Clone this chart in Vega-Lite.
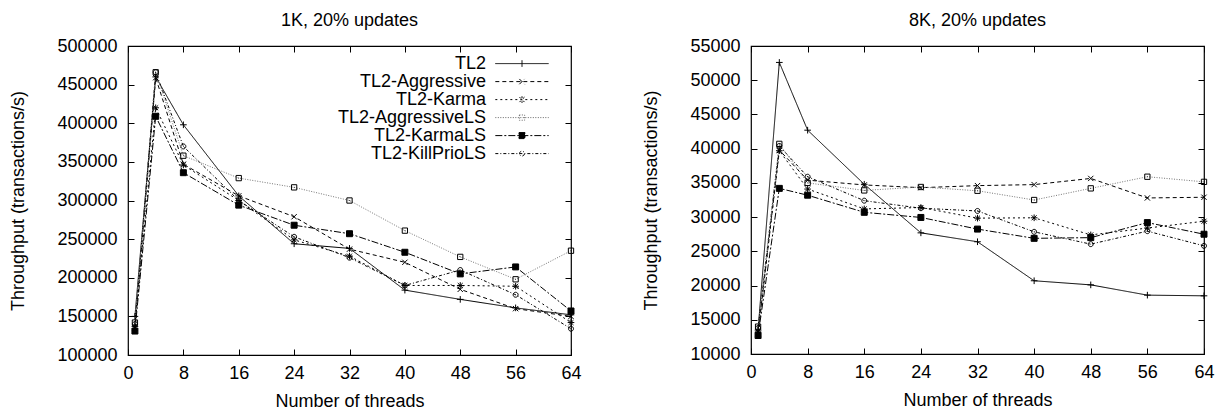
{
  "$schema": "https://vega.github.io/schema/vega-lite/v6.json",
  "padding": {"left": 9, "top": 11, "right": 5, "bottom": 4},
  "background": "white",
  "config": {
    "font": "Liberation Sans",
    "view": {"stroke": "black", "strokeWidth": 1.2},
    "title": {"font": "Liberation Sans", "fontSize": 18, "fontWeight": "normal", "color": "black", "offset": 7},
    "axis": {
      "labelFont": "Liberation Sans", "labelFontSize": 18, "labelColor": "black", "labelFlush": false, "labelOverlap": false,
      "titleFont": "Liberation Sans", "titleFontSize": 18, "titleFontWeight": "normal", "titleColor": "black",
      "grid": false, "domain": false, "tickColor": "black", "tickSize": -6, "tickWidth": 1
    },
    "legend": {
      "labelFont": "Liberation Sans", "labelFontSize": 18, "labelColor": "black"
    }
  },
  "datasets": {
    "k1": [
      {"threads": 1, "series": "TL2", "tp": 150000},
      {"threads": 4, "series": "TL2", "tp": 460000},
      {"threads": 8, "series": "TL2", "tp": 398000},
      {"threads": 16, "series": "TL2", "tp": 306000},
      {"threads": 24, "series": "TL2", "tp": 244000},
      {"threads": 32, "series": "TL2", "tp": 238000},
      {"threads": 40, "series": "TL2", "tp": 184000},
      {"threads": 48, "series": "TL2", "tp": 172000},
      {"threads": 56, "series": "TL2", "tp": 161000},
      {"threads": 64, "series": "TL2", "tp": 152000},
      {"threads": 1, "series": "TL2-Aggressive", "tp": 135000},
      {"threads": 4, "series": "TL2-Aggressive", "tp": 459000},
      {"threads": 8, "series": "TL2-Aggressive", "tp": 347000},
      {"threads": 16, "series": "TL2-Aggressive", "tp": 306000},
      {"threads": 24, "series": "TL2-Aggressive", "tp": 279000},
      {"threads": 32, "series": "TL2-Aggressive", "tp": 237000},
      {"threads": 40, "series": "TL2-Aggressive", "tp": 220000},
      {"threads": 48, "series": "TL2-Aggressive", "tp": 185000},
      {"threads": 56, "series": "TL2-Aggressive", "tp": 160000},
      {"threads": 64, "series": "TL2-Aggressive", "tp": 150000},
      {"threads": 1, "series": "TL2-Karma", "tp": 137000},
      {"threads": 4, "series": "TL2-Karma", "tp": 420000},
      {"threads": 8, "series": "TL2-Karma", "tp": 346000},
      {"threads": 16, "series": "TL2-Karma", "tp": 300000},
      {"threads": 24, "series": "TL2-Karma", "tp": 249000},
      {"threads": 32, "series": "TL2-Karma", "tp": 228000},
      {"threads": 40, "series": "TL2-Karma", "tp": 190000},
      {"threads": 48, "series": "TL2-Karma", "tp": 190000},
      {"threads": 56, "series": "TL2-Karma", "tp": 189000},
      {"threads": 64, "series": "TL2-Karma", "tp": 142000},
      {"threads": 1, "series": "TL2-AggressiveLS", "tp": 142000},
      {"threads": 4, "series": "TL2-AggressiveLS", "tp": 466000},
      {"threads": 8, "series": "TL2-AggressiveLS", "tp": 358000},
      {"threads": 16, "series": "TL2-AggressiveLS", "tp": 329000},
      {"threads": 24, "series": "TL2-AggressiveLS", "tp": 317000},
      {"threads": 32, "series": "TL2-AggressiveLS", "tp": 300000},
      {"threads": 40, "series": "TL2-AggressiveLS", "tp": 261000},
      {"threads": 48, "series": "TL2-AggressiveLS", "tp": 227000},
      {"threads": 56, "series": "TL2-AggressiveLS", "tp": 198000},
      {"threads": 64, "series": "TL2-AggressiveLS", "tp": 235000},
      {"threads": 1, "series": "TL2-KarmaLS", "tp": 131000},
      {"threads": 4, "series": "TL2-KarmaLS", "tp": 409000},
      {"threads": 8, "series": "TL2-KarmaLS", "tp": 336000},
      {"threads": 16, "series": "TL2-KarmaLS", "tp": 294000},
      {"threads": 24, "series": "TL2-KarmaLS", "tp": 268000},
      {"threads": 32, "series": "TL2-KarmaLS", "tp": 257000},
      {"threads": 40, "series": "TL2-KarmaLS", "tp": 233000},
      {"threads": 48, "series": "TL2-KarmaLS", "tp": 205000},
      {"threads": 56, "series": "TL2-KarmaLS", "tp": 214000},
      {"threads": 64, "series": "TL2-KarmaLS", "tp": 157000},
      {"threads": 1, "series": "TL2-KillPrioLS", "tp": 140000},
      {"threads": 4, "series": "TL2-KillPrioLS", "tp": 466000},
      {"threads": 8, "series": "TL2-KillPrioLS", "tp": 370000},
      {"threads": 16, "series": "TL2-KillPrioLS", "tp": 300000},
      {"threads": 24, "series": "TL2-KillPrioLS", "tp": 253000},
      {"threads": 32, "series": "TL2-KillPrioLS", "tp": 226000},
      {"threads": 40, "series": "TL2-KillPrioLS", "tp": 190000},
      {"threads": 48, "series": "TL2-KillPrioLS", "tp": 210000},
      {"threads": 56, "series": "TL2-KillPrioLS", "tp": 178000},
      {"threads": 64, "series": "TL2-KillPrioLS", "tp": 134000}
    ],
    "k8": [
      {"threads": 1, "series": "TL2", "tp": 13500},
      {"threads": 4, "series": "TL2", "tp": 52600},
      {"threads": 8, "series": "TL2", "tp": 42700},
      {"threads": 16, "series": "TL2", "tp": 34800},
      {"threads": 24, "series": "TL2", "tp": 27700},
      {"threads": 32, "series": "TL2", "tp": 26400},
      {"threads": 40, "series": "TL2", "tp": 20700},
      {"threads": 48, "series": "TL2", "tp": 20100},
      {"threads": 56, "series": "TL2", "tp": 18600},
      {"threads": 64, "series": "TL2", "tp": 18500},
      {"threads": 1, "series": "TL2-Aggressive", "tp": 13000},
      {"threads": 4, "series": "TL2-Aggressive", "tp": 39800},
      {"threads": 8, "series": "TL2-Aggressive", "tp": 35400},
      {"threads": 16, "series": "TL2-Aggressive", "tp": 34700},
      {"threads": 24, "series": "TL2-Aggressive", "tp": 34300},
      {"threads": 32, "series": "TL2-Aggressive", "tp": 34600},
      {"threads": 40, "series": "TL2-Aggressive", "tp": 34750},
      {"threads": 48, "series": "TL2-Aggressive", "tp": 35650},
      {"threads": 56, "series": "TL2-Aggressive", "tp": 32800},
      {"threads": 64, "series": "TL2-Aggressive", "tp": 32900},
      {"threads": 1, "series": "TL2-Karma", "tp": 13200},
      {"threads": 4, "series": "TL2-Karma", "tp": 39700},
      {"threads": 8, "series": "TL2-Karma", "tp": 34100},
      {"threads": 16, "series": "TL2-Karma", "tp": 31200},
      {"threads": 24, "series": "TL2-Karma", "tp": 31400},
      {"threads": 32, "series": "TL2-Karma", "tp": 29850},
      {"threads": 40, "series": "TL2-Karma", "tp": 29900},
      {"threads": 48, "series": "TL2-Karma", "tp": 27400},
      {"threads": 56, "series": "TL2-Karma", "tp": 28400},
      {"threads": 64, "series": "TL2-Karma", "tp": 29400},
      {"threads": 1, "series": "TL2-AggressiveLS", "tp": 14000},
      {"threads": 4, "series": "TL2-AggressiveLS", "tp": 40700},
      {"threads": 8, "series": "TL2-AggressiveLS", "tp": 35000},
      {"threads": 16, "series": "TL2-AggressiveLS", "tp": 33900},
      {"threads": 24, "series": "TL2-AggressiveLS", "tp": 34400},
      {"threads": 32, "series": "TL2-AggressiveLS", "tp": 33850},
      {"threads": 40, "series": "TL2-AggressiveLS", "tp": 32500},
      {"threads": 48, "series": "TL2-AggressiveLS", "tp": 34200},
      {"threads": 56, "series": "TL2-AggressiveLS", "tp": 35900},
      {"threads": 64, "series": "TL2-AggressiveLS", "tp": 35150},
      {"threads": 1, "series": "TL2-KarmaLS", "tp": 12700},
      {"threads": 4, "series": "TL2-KarmaLS", "tp": 34200},
      {"threads": 8, "series": "TL2-KarmaLS", "tp": 33200},
      {"threads": 16, "series": "TL2-KarmaLS", "tp": 30700},
      {"threads": 24, "series": "TL2-KarmaLS", "tp": 29950},
      {"threads": 32, "series": "TL2-KarmaLS", "tp": 28250},
      {"threads": 40, "series": "TL2-KarmaLS", "tp": 26900},
      {"threads": 48, "series": "TL2-KarmaLS", "tp": 27000},
      {"threads": 56, "series": "TL2-KarmaLS", "tp": 29200},
      {"threads": 64, "series": "TL2-KarmaLS", "tp": 27500},
      {"threads": 1, "series": "TL2-KillPrioLS", "tp": 13800},
      {"threads": 4, "series": "TL2-KillPrioLS", "tp": 40400},
      {"threads": 8, "series": "TL2-KillPrioLS", "tp": 35900},
      {"threads": 16, "series": "TL2-KillPrioLS", "tp": 32400},
      {"threads": 24, "series": "TL2-KillPrioLS", "tp": 31300},
      {"threads": 32, "series": "TL2-KillPrioLS", "tp": 30900},
      {"threads": 40, "series": "TL2-KillPrioLS", "tp": 27850},
      {"threads": 48, "series": "TL2-KillPrioLS", "tp": 26050},
      {"threads": 56, "series": "TL2-KillPrioLS", "tp": 27950},
      {"threads": 64, "series": "TL2-KillPrioLS", "tp": 25800}
    ]
  },
  "spacing": 60,
  "resolve": {
    "scale": {"strokeDash": "independent", "shape": "independent", "fill": "independent", "stroke": "independent"},
    "legend": {"strokeDash": "independent", "shape": "independent", "fill": "independent", "stroke": "independent"}
  },
  "hconcat": [
    {
      "title": "1K, 20% updates",
      "width": 443,
      "height": 309,
      "data": {"name": "k1"},
      "resolve": {
        "axis": {"x": "independent", "y": "independent"},
        "scale": {"strokeDash": "independent", "shape": "independent", "fill": "independent", "stroke": "independent"}
      },
      "layer": [
        {
          "transform": [{"filter": "datum.series !== 'TL2-AggressiveLS'"}],
          "mark": {"type": "line", "strokeWidth": 1, "stroke": "black"},
          "encoding": {
            "x": {"field": "threads", "type": "quantitative", "scale": {"domain": [0, 64], "nice": false, "zero": false},
                  "axis": {"values": [0, 8, 16, 24, 32, 40, 48, 56, 64], "title": "Number of threads", "labelPadding": 15, "titlePadding": 10}},
            "y": {"field": "tp", "type": "quantitative", "scale": {"domain": [100000, 500000], "nice": false, "zero": false},
                  "axis": {"values": [100000, 150000, 200000, 250000, 300000, 350000, 400000, 450000, 500000], "format": "d", "title": "Throughput (transactions/s)", "labelPadding": 17, "titlePadding": 29}},
            "strokeDash": {"field": "series", "type": "nominal", "legend": null,
              "scale": {"domain": ["TL2", "TL2-Aggressive", "TL2-Karma", "TL2-AggressiveLS", "TL2-KarmaLS", "TL2-KillPrioLS"],
                        "range": [[1, 0], [4, 3], [2, 3], [1, 1.5], [7, 2, 2, 2], [3, 2, 1, 2]]}}
          }
        },
        {
          "transform": [{"filter": "datum.series === 'TL2-AggressiveLS'"}],
          "mark": {"type": "line", "strokeWidth": 1, "stroke": "#777777", "strokeDash": [1, 1.5]},
          "encoding": {
            "x": {"field": "threads", "type": "quantitative", "axis": null},
            "y": {"field": "tp", "type": "quantitative", "axis": null}
          }
        },
        {
          "mark": {"type": "point", "stroke": "black", "strokeWidth": 1, "opacity": 1, "size": 44},
          "encoding": {
            "x": {"field": "threads", "type": "quantitative", "scale": {"domain": [0, 64], "nice": false, "zero": false},
                  "axis": {"orient": "top", "values": [0, 8, 16, 24, 32, 40, 48, 56, 64], "labels": false, "title": null}},
            "y": {"field": "tp", "type": "quantitative", "scale": {"domain": [100000, 500000], "nice": false, "zero": false},
                  "axis": {"orient": "right", "values": [100000, 150000, 200000, 250000, 300000, 350000, 400000, 450000, 500000], "labels": false, "title": null}},
            "shape": {"field": "series", "type": "nominal", "legend": null,
              "scale": {"domain": ["TL2", "TL2-Aggressive", "TL2-Karma", "TL2-AggressiveLS", "TL2-KarmaLS", "TL2-KillPrioLS"],
                        "range": ["M-1,0L1,0M0,-1L0,1", "M-0.8,-0.8L0.8,0.8M-0.8,0.8L0.8,-0.8", "M-1,0L1,0M0,-1L0,1M-0.75,-0.75L0.75,0.75M-0.75,0.75L0.75,-0.75", "M-0.8,-0.8L0.8,-0.8L0.8,0.8L-0.8,0.8ZM-0.1,0L0.1,0", "M-0.9,-0.9L0.9,-0.9L0.9,0.9L-0.9,0.9Z", "M-0.75,0A0.75,0.75,0,1,1,0.75,0A0.75,0.75,0,1,1,-0.75,0ZM-0.1,0L0.1,0"]}},
            "fill": {"field": "series", "type": "nominal", "legend": null,
              "scale": {"domain": ["TL2", "TL2-Aggressive", "TL2-Karma", "TL2-AggressiveLS", "TL2-KarmaLS", "TL2-KillPrioLS"],
                        "range": ["transparent", "transparent", "transparent", "transparent", "black", "transparent"]}}
          }
        },
        {
          "transform": [{"filter": "false"}],
          "mark": {"type": "point", "strokeWidth": 1, "opacity": 1},
          "encoding": {
            "x": {"field": "threads", "type": "quantitative", "axis": null},
            "y": {"field": "tp", "type": "quantitative", "axis": null},
            "strokeDash": {"field": "series", "type": "nominal",
              "scale": {"domain": ["TL2", "TL2-Aggressive", "TL2-Karma", "TL2-AggressiveLS", "TL2-KarmaLS", "TL2-KillPrioLS"],
                        "range": [[1, 0], [4, 3], [2, 3], [1, 1.5], [7, 2, 2, 2], [3, 2, 1, 2]]},
              "legend": {"title": null, "orient": "none", "legendX": 385, "legendY": 8.6, "symbolSize": 64, "symbolStrokeWidth": 1,
                         "labelAlign": "right", "labelOffset": -45, "rowPadding": -0.5, "padding": 0}},
            "shape": {"field": "series", "type": "nominal",
              "scale": {"domain": ["TL2", "TL2-Aggressive", "TL2-Karma", "TL2-AggressiveLS", "TL2-KarmaLS", "TL2-KillPrioLS"],
                        "range": ["M-6.67,0L6.67,0M0,-0.83L0,0.83", "M-6.67,0L6.67,0M-0.66,-0.66L0.66,0.66M-0.66,0.66L0.66,-0.66", "M-6.67,0L6.67,0M0,-0.83L0,0.83M-0.62,-0.62L0.62,0.62M-0.62,0.62L0.62,-0.62", "M-6.67,0L6.67,0M-0.66,-0.66L0.66,-0.66L0.66,0.66L-0.66,0.66Z", "M-6.67,0L6.67,0M-0.75,-0.75L0.75,-0.75L0.75,0.75L-0.75,0.75Z", "M-6.67,0L6.67,0M-0.62,0A0.62,0.62,0,1,1,0.62,0A0.62,0.62,0,1,1,-0.62,0Z"]},
              "legend": {"title": null, "orient": "none", "legendX": 385, "legendY": 8.6, "symbolSize": 64, "symbolStrokeWidth": 1,
                         "labelAlign": "right", "labelOffset": -45, "rowPadding": -0.5, "padding": 0}},
            "fill": {"field": "series", "type": "nominal",
              "scale": {"domain": ["TL2", "TL2-Aggressive", "TL2-Karma", "TL2-AggressiveLS", "TL2-KarmaLS", "TL2-KillPrioLS"],
                        "range": ["transparent", "transparent", "transparent", "transparent", "black", "transparent"]},
              "legend": {"title": null, "orient": "none", "legendX": 385, "legendY": 8.6, "symbolSize": 64, "symbolStrokeWidth": 1,
                         "labelAlign": "right", "labelOffset": -45, "rowPadding": -0.5, "padding": 0}},
            "stroke": {"field": "series", "type": "nominal",
              "scale": {"domain": ["TL2", "TL2-Aggressive", "TL2-Karma", "TL2-AggressiveLS", "TL2-KarmaLS", "TL2-KillPrioLS"],
                        "range": ["black", "black", "black", "#666666", "black", "black"]},
              "legend": {"title": null, "orient": "none", "legendX": 385, "legendY": 8.6, "symbolSize": 64, "symbolStrokeWidth": 1,
                         "labelAlign": "right", "labelOffset": -45, "rowPadding": -0.5, "padding": 0}}
          }
        }
      ]
    },
    {
      "title": "8K, 20% updates",
      "width": 453,
      "height": 308,
      "data": {"name": "k8"},
      "resolve": {"axis": {"x": "independent", "y": "independent"}},
      "layer": [
        {
          "transform": [{"filter": "datum.series !== 'TL2-AggressiveLS'"}],
          "mark": {"type": "line", "strokeWidth": 1, "stroke": "black"},
          "encoding": {
            "x": {"field": "threads", "type": "quantitative", "scale": {"domain": [0, 64], "nice": false, "zero": false},
                  "axis": {"values": [0, 8, 16, 24, 32, 40, 48, 56, 64], "title": "Number of threads", "labelPadding": 15, "titlePadding": 10}},
            "y": {"field": "tp", "type": "quantitative", "scale": {"domain": [10000, 55000], "nice": false, "zero": false},
                  "axis": {"values": [10000, 15000, 20000, 25000, 30000, 35000, 40000, 45000, 50000, 55000], "format": "d", "title": "Throughput (transactions/s)", "labelPadding": 17, "titlePadding": 29}},
            "strokeDash": {"field": "series", "type": "nominal", "legend": null,
              "scale": {"domain": ["TL2", "TL2-Aggressive", "TL2-Karma", "TL2-AggressiveLS", "TL2-KarmaLS", "TL2-KillPrioLS"],
                        "range": [[1, 0], [4, 3], [2, 3], [1, 1.5], [7, 2, 2, 2], [3, 2, 1, 2]]}}
          }
        },
        {
          "transform": [{"filter": "datum.series === 'TL2-AggressiveLS'"}],
          "mark": {"type": "line", "strokeWidth": 1, "stroke": "#777777", "strokeDash": [1, 1.5]},
          "encoding": {
            "x": {"field": "threads", "type": "quantitative", "axis": null},
            "y": {"field": "tp", "type": "quantitative", "axis": null}
          }
        },
        {
          "mark": {"type": "point", "stroke": "black", "strokeWidth": 1, "opacity": 1, "size": 44},
          "encoding": {
            "x": {"field": "threads", "type": "quantitative", "scale": {"domain": [0, 64], "nice": false, "zero": false},
                  "axis": {"orient": "top", "values": [0, 8, 16, 24, 32, 40, 48, 56, 64], "labels": false, "title": null}},
            "y": {"field": "tp", "type": "quantitative", "scale": {"domain": [10000, 55000], "nice": false, "zero": false},
                  "axis": {"orient": "right", "values": [10000, 15000, 20000, 25000, 30000, 35000, 40000, 45000, 50000, 55000], "labels": false, "title": null}},
            "shape": {"field": "series", "type": "nominal", "legend": null,
              "scale": {"domain": ["TL2", "TL2-Aggressive", "TL2-Karma", "TL2-AggressiveLS", "TL2-KarmaLS", "TL2-KillPrioLS"],
                        "range": ["M-1,0L1,0M0,-1L0,1", "M-0.8,-0.8L0.8,0.8M-0.8,0.8L0.8,-0.8", "M-1,0L1,0M0,-1L0,1M-0.75,-0.75L0.75,0.75M-0.75,0.75L0.75,-0.75", "M-0.8,-0.8L0.8,-0.8L0.8,0.8L-0.8,0.8ZM-0.1,0L0.1,0", "M-0.9,-0.9L0.9,-0.9L0.9,0.9L-0.9,0.9Z", "M-0.75,0A0.75,0.75,0,1,1,0.75,0A0.75,0.75,0,1,1,-0.75,0ZM-0.1,0L0.1,0"]}},
            "fill": {"field": "series", "type": "nominal", "legend": null,
              "scale": {"domain": ["TL2", "TL2-Aggressive", "TL2-Karma", "TL2-AggressiveLS", "TL2-KarmaLS", "TL2-KillPrioLS"],
                        "range": ["transparent", "transparent", "transparent", "transparent", "black", "transparent"]}}
          }
        }
      ]
    }
  ]
}
